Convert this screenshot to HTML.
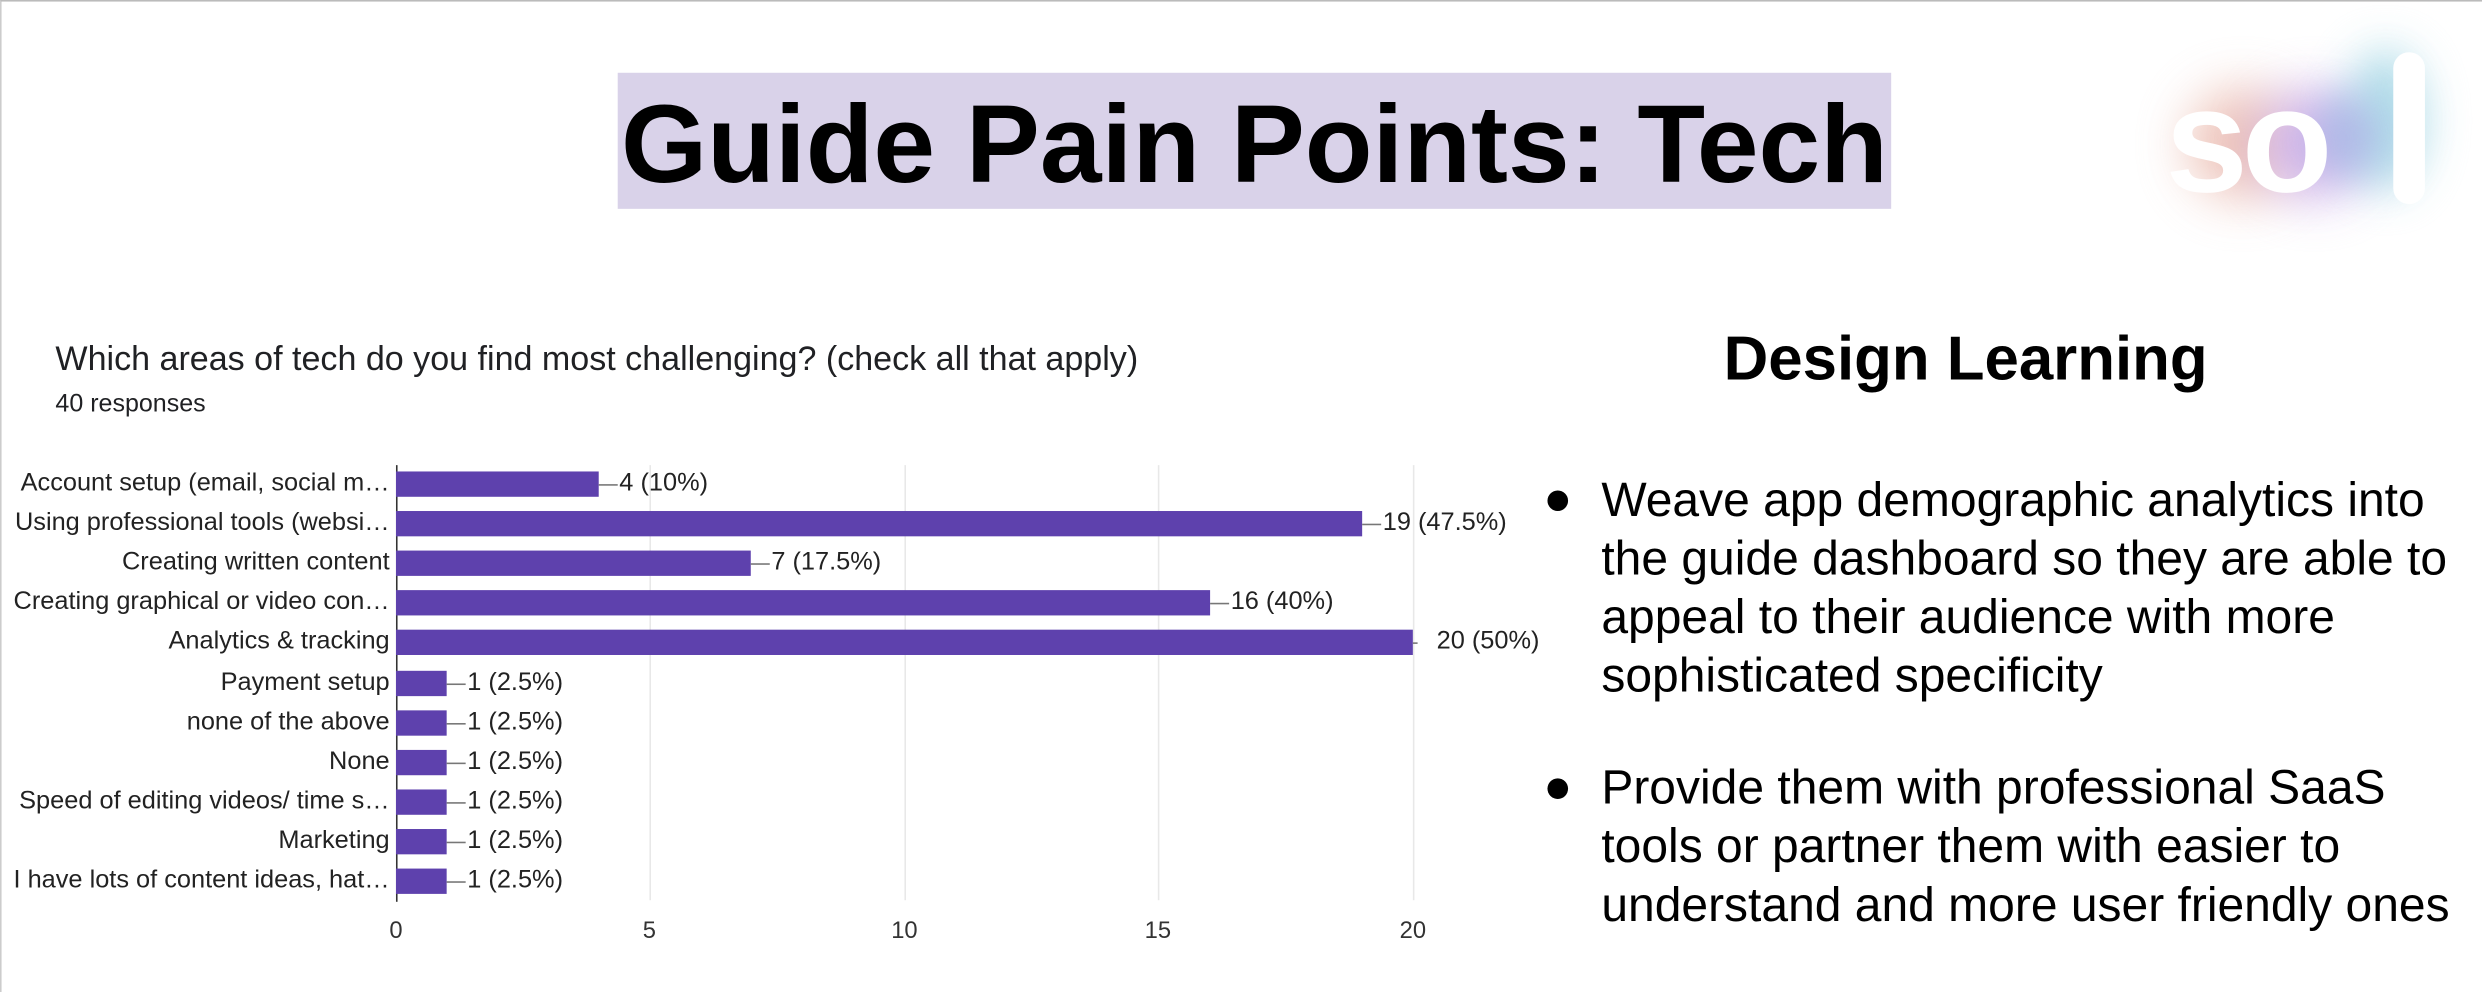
<!DOCTYPE html>
<html><head><meta charset="utf-8"><style>
html,body{margin:0;padding:0;background:#fff;overflow:hidden}
body{width:2482px;height:992px;position:relative}
#w{position:absolute;left:0;top:0;width:1567px;height:627px;transform-origin:0 0;transform:scale(1.5839,1.5821);font-family:"Liberation Sans",Arial,sans-serif;border-top:1px solid #bbb;border-left:1px solid #ccc;box-sizing:border-box}
.a{position:absolute;white-space:nowrap}
.lab{position:absolute;right:1321px;font-size:16px;color:#222;white-space:nowrap;line-height:16px}
.bar{position:absolute;left:249px;height:16px;background:#5e41ad}
.val{position:absolute;font-size:16px;color:#222;white-space:nowrap;line-height:16px}
.ln{position:absolute;height:1px;background:#777}
.g{position:absolute;top:293px;height:275px;width:1px;background:#e8e8e8}
.t{position:absolute;top:579px;font-size:15px;color:#333;width:40px;text-align:center}
</style></head><body><div id="w">
<div class="a" style="left:389px;top:45px;width:804px;height:86px;background:#d9d2e9"></div>
<div class="a" style="left:389px;top:45px;width:804px;height:86px;line-height:90px;text-align:center;font-size:70px;font-weight:bold;color:#000">Guide Pain Points: Tech</div>
<!-- logo -->
<div class="a" style="left:1380px;top:55px;width:70px;height:70px;border-radius:50%;background:#e9b5a8;filter:blur(16px);opacity:.8"></div>
<div class="a" style="left:1425px;top:55px;width:70px;height:70px;border-radius:50%;background:#cdb0ea;filter:blur(16px);opacity:.9"></div>
<div class="a" style="left:1480px;top:30px;width:50px;height:90px;border-radius:50%;background:#a7d8e6;filter:blur(14px);opacity:.9"></div>
<div class="a" style="left:1460px;top:60px;width:40px;height:50px;border-radius:50%;background:#aab4e6;filter:blur(12px);opacity:.8"></div>
<div class="a" style="left:1366px;top:18px;font-size:94px;font-weight:bold;color:#fff;letter-spacing:-4px;line-height:140px">so</div>
<div class="a" style="left:1510px;top:32px;width:20px;height:96px;border-radius:10px;background:#fff"></div>
<!-- chart -->
<div class="a" style="left:34px;top:214px;font-size:21.5px;color:#202124">Which areas of tech do you find most challenging? (check all that apply)</div>
<div class="a" style="left:34px;top:246px;font-size:15.8px;color:#202124">40 responses</div>
<div class="g" style="left:409px"></div><div class="g" style="left:570px"></div><div class="g" style="left:730px"></div><div class="g" style="left:891px"></div>
<div class="a" style="left:249px;top:293px;width:1px;height:276px;background:#333"></div>
<div class="t" style="left:229px">0</div><div class="t" style="left:389px">5</div><div class="t" style="left:550px">10</div><div class="t" style="left:710px">15</div><div class="t" style="left:871px">20</div>

<div class="lab" style="top:297px">Account setup (email, social m…</div>
<div class="bar" style="top:297px;width:128px"></div><div class="ln" style="left:377px;top:305px;width:12px"></div><div class="val" style="left:390px;top:297px">4 (10%)</div>

<div class="lab" style="top:322px">Using professional tools (websi…</div>
<div class="bar" style="top:322px;width:610px"></div><div class="ln" style="left:859px;top:330px;width:12px"></div><div class="val" style="left:872px;top:322px">19 (47.5%)</div>

<div class="lab" style="top:347px">Creating written content</div>
<div class="bar" style="top:347px;width:224px"></div><div class="ln" style="left:473px;top:355px;width:12px"></div><div class="val" style="left:486px;top:347px">7 (17.5%)</div>

<div class="lab" style="top:372px">Creating graphical or video con…</div>
<div class="bar" style="top:372px;width:514px"></div><div class="ln" style="left:763px;top:380px;width:12px"></div><div class="val" style="left:776px;top:372px">16 (40%)</div>

<div class="lab" style="top:397px">Analytics &amp; tracking</div>
<div class="bar" style="top:397px;width:642px"></div><div class="ln" style="left:891px;top:405px;width:3px"></div><div class="val" style="left:906px;top:397px">20 (50%)</div>

<div class="lab" style="top:423px">Payment setup</div>
<div class="bar" style="top:423px;width:32px"></div><div class="ln" style="left:281px;top:431px;width:12px"></div><div class="val" style="left:294px;top:423px">1 (2.5%)</div>

<div class="lab" style="top:448px">none of the above</div>
<div class="bar" style="top:448px;width:32px"></div><div class="ln" style="left:281px;top:456px;width:12px"></div><div class="val" style="left:294px;top:448px">1 (2.5%)</div>

<div class="lab" style="top:473px">None</div>
<div class="bar" style="top:473px;width:32px"></div><div class="ln" style="left:281px;top:481px;width:12px"></div><div class="val" style="left:294px;top:473px">1 (2.5%)</div>

<div class="lab" style="top:498px">Speed of editing videos/ time s…</div>
<div class="bar" style="top:498px;width:32px"></div><div class="ln" style="left:281px;top:506px;width:12px"></div><div class="val" style="left:294px;top:498px">1 (2.5%)</div>

<div class="lab" style="top:523px">Marketing</div>
<div class="bar" style="top:523px;width:32px"></div><div class="ln" style="left:281px;top:531px;width:12px"></div><div class="val" style="left:294px;top:523px">1 (2.5%)</div>

<div class="lab" style="top:548px">I have lots of content ideas, hat…</div>
<div class="bar" style="top:548px;width:32px"></div><div class="ln" style="left:281px;top:556px;width:12px"></div><div class="val" style="left:294px;top:548px">1 (2.5%)</div>

<!-- right -->
<div class="a" style="left:1040px;top:205px;width:400px;text-align:center;font-size:39px;font-weight:bold;color:#000">Design Learning</div>
<div class="a" style="left:976px;top:309px;width:13px;height:13px;border-radius:50%;background:#000"></div>
<div class="a" style="left:1010px;top:297px;font-size:30.3px;line-height:37px;color:#000">Weave app demographic analytics into<br>the guide dashboard so they are able to<br>appeal to their audience with more<br>sophisticated specificity</div>
<div class="a" style="left:976px;top:491px;width:13px;height:13px;border-radius:50%;background:#000"></div>
<div class="a" style="left:1010px;top:479px;font-size:30.3px;line-height:37px;color:#000">Provide them with professional SaaS<br>tools or partner them with easier to<br>understand and more user friendly ones</div>
</div></body></html>
